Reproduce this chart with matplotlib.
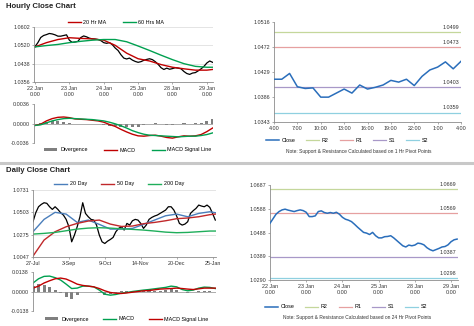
import numpy as np
import matplotlib.pyplot as plt

plt.rcParams['font.family'] = ['Liberation Sans', 'DejaVu Sans']

W, H = 474, 326

# ---- hourly close chart, 22 Jan 0:00 -> 29 Jan 4:00, one value every 2 trading hours
hr_close = [1.0514, 1.0532, 1.0555, 1.0564, 1.0568, 1.0573, 1.0571, 1.0567, 1.0561, 1.0561, 1.0564, 1.0567,
            1.0543, 1.0533, 1.0535, 1.0538, 1.0555, 1.0562, 1.0558, 1.0552, 1.0549, 1.0548, 1.0546, 1.0541,
            1.0532, 1.0529, 1.0532, 1.0523, 1.0508, 1.0497, 1.0478, 1.0463, 1.0459, 1.0463, 1.0454, 1.0448,
            1.0444, 1.0447, 1.0453, 1.0457, 1.0460, 1.0456, 1.0447, 1.0435, 1.0420, 1.0412, 1.0418, 1.0413,
            1.0416, 1.0420, 1.0418, 1.0415, 1.0403, 1.0394, 1.0390, 1.0396, 1.0398, 1.0406, 1.0415, 1.0426,
            1.0441, 1.0450, 1.0444]
hr_ma_hours = [0, 8, 16, 24, 32, 40, 48, 56, 64, 72, 80, 88, 96, 104, 112, 120, 124]
hr_ma20 = [1.0513, 1.0532, 1.0546, 1.0554, 1.0551, 1.0549, 1.0543, 1.0520, 1.0485, 1.0460, 1.0450,
           1.0434, 1.0422, 1.0415, 1.0409, 1.0409, 1.0412]
hr_ma60 = [1.0513, 1.0519, 1.0524, 1.0532, 1.0538, 1.0543, 1.0546, 1.0546, 1.0536, 1.0517, 1.0497,
           1.0476, 1.0456, 1.0438, 1.0426, 1.0422, 1.0422]
hr_day_labels = ['22 Jan\n0:00', '23 Jan\n0:00', '24 Jan\n0:00', '25 Jan\n0:00', '28 Jan\n0:00', '29 Jan\n0:00']
hr_price_ticks = ['1.0356', '1.0438', '1.0520', '1.0602']

# hourly MACD, one value every 4 hours
hr_macd = [-0.00036, -0.00012, 0.00048, 0.0009, 0.00114, 0.0012, 0.00108, 0.00084, 0.00078, 0.00072, 0.0006,
           0.00048, 0.00024, -0.00018, -0.00054, -0.00108, -0.00156, -0.00198, -0.00228, -0.00234, -0.00222,
           -0.00216, -0.00234, -0.00258, -0.0027, -0.00246, -0.00228, -0.00234, -0.00228, -0.00204, -0.0015,
           -0.00084]
hr_signal = [-0.00036, -0.00024, 0.00012, 0.00048, 0.00072, 0.0009, 0.00096, 0.0009, 0.00084, 0.00078, 0.00072,
             0.0006, 0.00048, 0.00024, -0.00006, -0.00042, -0.00084, -0.00132, -0.00168, -0.00198, -0.00216,
             -0.00222, -0.00228, -0.00234, -0.0024, -0.00246, -0.0024, -0.00234, -0.00234, -0.00222, -0.00204,
             -0.00174]
hr_div = [0.0, 0.00012, 0.00036, 0.00042, 0.00042, 0.0003, 0.00012, -0.00006, -0.00006, -0.00006, -0.00012,
          -0.00012, -0.00024, -0.00042, -0.00048, -0.00066, -0.00072, -0.00066, -0.0006, -0.00036, -0.00006,
          0.00006, -0.00006, -0.00024, -0.0003, 0.0, 0.00012, 0.0, 0.00006, 0.00018, 0.00054, 0.0009]

# ---- 1 hr pivot chart (4:00 -> 4:00)
pv_labels = ['4:00', '7:00', '10:00', '13:00', '16:00', '19:00', '22:00', '1:00', '4:00']
pv_close = [1.0417, 1.0417, 1.0427, 1.0404, 1.0401, 1.0402, 1.0386, 1.0386, 1.0393, 1.0400, 1.0393, 1.0407,
            1.0400, 1.0403, 1.0407, 1.0415, 1.0412, 1.0417, 1.0406, 1.0422, 1.0433, 1.0438, 1.0447, 1.0435,
            1.0448]
pv_levels = [1.0499, 1.0473, 1.0403, 1.0359]   # R2, R1, S1, S2
pv_ticks = ['1.0343', '1.0386', '1.0429', '1.0472', '1.0516']

# ---- daily close chart, 27 Jul -> 29 Jan, one value every 2 trading days
d_close = [1.0407, 1.0499, 1.0560, 1.0584, 1.0601, 1.0595, 1.0560, 1.0533, 1.0560, 1.0533, 1.0499, 1.0475,
           1.0431, 1.0356, 1.0202, 1.0271, 1.0356, 1.0458, 1.0601, 1.0492, 1.0458, 1.0431, 1.0424, 1.0373,
           1.0271, 1.0202, 1.0185, 1.0209, 1.0226, 1.0247, 1.0305, 1.0339, 1.0356, 1.0322, 1.0390, 1.0373,
           1.0417, 1.0431, 1.0424, 1.0390, 1.0339, 1.0373, 1.0431, 1.0451, 1.0465, 1.0475, 1.0492, 1.0509,
           1.0526, 1.0560, 1.0560, 1.0526, 1.0465, 1.0390, 1.0373, 1.0383, 1.0407, 1.0492, 1.0520, 1.0543,
           1.0577, 1.0567, 1.0560, 1.0577, 1.0554, 1.0492, 1.0424]
d_ma_days = [0, 8, 16, 24, 32, 40, 48, 56, 64, 72, 80, 88, 96, 104, 112, 120, 128, 132]
d_ma20 = [1.0305, 1.0431, 1.0503, 1.0485, 1.0400, 1.0424, 1.0380, 1.0332, 1.0332, 1.0339, 1.0380, 1.0424,
          1.0468, 1.0485, 1.0458, 1.0492, 1.0509, 1.0499]
d_ma50 = [1.0056, 1.0220, 1.0305, 1.0356, 1.0390, 1.0414, 1.0424, 1.0383, 1.0359, 1.0363, 1.0387, 1.0400,
          1.0417, 1.0438, 1.0445, 1.0458, 1.0479, 1.0485]
d_ma200 = [1.0281, 1.0288, 1.0298, 1.0315, 1.0332, 1.0342, 1.0346, 1.0342, 1.0335, 1.0329, 1.0322, 1.0312,
           1.0301, 1.0295, 1.0298, 1.0305, 1.0312, 1.0312]
d_date_labels = ['27-Jul', '3-Sep', '9-Oct', '14-Nov', '20-Dec', '25-Jan']
d_price_ticks = ['1.0047', '1.0275', '1.0503', '1.0731']

# daily MACD, one value every 4 days
d_macd = [0.0060, 0.0090, 0.0107, 0.0109, 0.0098, 0.0081, 0.0052, 0.0021, 0.0024, 0.0038, 0.0038, 0.0033,
          0.0010, -0.0019, -0.0026, -0.0021, -0.0012, -0.0007, 0.0000, 0.0005, 0.0010, 0.0014, 0.0019, 0.0024,
          0.0029, 0.0038, 0.0033, 0.0014, 0.0005, 0.0010, 0.0024, 0.0031, 0.0029, 0.0021]
d_signal = [0.0024, 0.0038, 0.0060, 0.0076, 0.0090, 0.0095, 0.0088, 0.0071, 0.0052, 0.0043, 0.0038, 0.0033,
            0.0021, 0.0005, -0.0007, -0.0012, -0.0014, -0.0010, -0.0005, 0.0000, 0.0005, 0.0007, 0.0012, 0.0017,
            0.0019, 0.0021, 0.0024, 0.0021, 0.0017, 0.0014, 0.0019, 0.0024, 0.0024, 0.0024]
d_div = [0.0036, 0.0052, 0.0047, 0.0033, 0.0008, -0.0014, -0.0036, -0.0050, -0.0028, -0.0005, 0.0, 0.0,
         -0.0011, -0.0024, -0.0019, -0.0009, 0.0002, 0.0003, 0.0005, 0.0005, 0.0005, 0.0007, 0.0007, 0.0007,
         0.0010, 0.0017, 0.0009, -0.0007, -0.0012, -0.0004, 0.0005, 0.0007, 0.0005, -0.0003]

# ---- 24 hr pivot chart, hourly closes 22 Jan -> 29 Jan, every 2 hours
p24_close = [1.0527, 1.0546, 1.0565, 1.0576, 1.0583, 1.0586, 1.0582, 1.0579, 1.0576, 1.0580, 1.0583, 1.0580,
             1.0573, 1.0555, 1.0555, 1.0558, 1.0576, 1.0579, 1.0572, 1.0569, 1.0572, 1.0569, 1.0573, 1.0565,
             1.0552, 1.0544, 1.0540, 1.0534, 1.0523, 1.0511, 1.0500, 1.0489, 1.0486, 1.0480, 1.0489, 1.0475,
             1.0466, 1.0466, 1.0471, 1.0472, 1.0475, 1.0466, 1.0455, 1.0444, 1.0433, 1.0428, 1.0436, 1.0433,
             1.0436, 1.0444, 1.0442, 1.0437, 1.0425, 1.0417, 1.0412, 1.0417, 1.0422, 1.0428, 1.0430, 1.0437,
             1.0450, 1.0458, 1.0461]
p24_levels = [1.0669, 1.0569, 1.0387, 1.0298]   # R2, R1, S1, S2
p24_ticks = ['1.0290', '1.0389', '1.0488', '1.0588', '1.0687']

level_names = ['R2', 'R1', 'S1', 'S2']
level_colors = ['#c4d79b', '#e6a0a0', '#a898c8', '#8fd0e0']

FS = 3.9
GRAY = '#8c8c8c'

fig = plt.figure(figsize=(W / 100, H / 100), dpi=100)


def px_axes(l, t, r, b):
    ax = fig.add_axes([l / W, 1 - b / H, (r - l) / W, (b - t) / H])
    ax.spines['top'].set_visible(False)
    ax.spines['right'].set_visible(False)
    for s in ['left', 'bottom']:
        ax.spines[s].set_color(GRAY)
        ax.spines[s].set_linewidth(0.6)
    ax.tick_params(labelsize=FS, length=1.5, width=0.5, color=GRAY, labelcolor='#333333', pad=1.5)
    return ax


def legend_at(ax, handles, labels, xc, yc, colsp):
    ax.legend(handles, labels, loc='center', bbox_to_anchor=(xc / W, 1 - yc / H),
              bbox_transform=fig.transFigure, ncol=len(handles), frameon=False, fontsize=FS,
              handlelength=2.4, handletextpad=0.5, columnspacing=colsp, borderpad=0,
              handleheight=0.6)


def value_ticks(ax, lo, hi, labels):
    ax.set_ylim(lo, hi)
    ax.set_yticks(np.linspace(lo, hi, len(labels)))
    ax.set_yticklabels(labels)


# titles and separator
fig.text(6 / W, 1 - 7 / H, 'Hourly Close Chart', fontsize=5.6, fontweight='bold', va='center', color='#222222')
fig.text(6 / W, 1 - 171 / H, 'Daily Close Chart', fontsize=5.6, fontweight='bold', va='center', color='#222222')
fig.add_artist(plt.Line2D([0, 1], [1 - 163 / H] * 2, color='#c8c8c8', lw=2.2, transform=fig.transFigure))

# ---------------- hourly price
ax = px_axes(34, 27, 213, 82)
hrs = np.arange(len(hr_close)) * 2
value_ticks(ax, 1.0356, 1.0602, hr_price_ticks)
ax.grid(axis='y', color='#d9d9d9', lw=0.5)
ax.set_axisbelow(True)
ax.plot(hrs, hr_close, color='black', lw=0.9)
l1, = ax.plot(hr_ma_hours, hr_ma20, color='#c00000', lw=1.0)
l2, = ax.plot(hr_ma_hours, hr_ma60, color='#00a050', lw=1.0)
ax.set_xlim(-0.7, 124.3)
ax.set_xticks(np.arange(0, 121, 24))
ax.set_xticklabels(hr_day_labels, linespacing=1.1)
legend_at(ax, [l1, l2], ['20 Hr MA', '60 Hrs MA'], 116, 22, 3.0)

# ---------------- hourly MACD
ax = px_axes(34, 104, 213, 143)
mh = np.arange(len(hr_macd)) * 4
value_ticks(ax, -0.0036, 0.0036, ['-0.0036', '0.0000', '0.0036'])
ax.spines['bottom'].set_visible(False)
ax.axhline(0, color=GRAY, lw=0.5)
b = ax.bar(mh, hr_div, width=2.2, color='#7f7f7f')
m1, = ax.plot(mh, hr_macd, color='#c00000', lw=1.0)
m2, = ax.plot(mh, hr_signal, color='#00a050', lw=1.0)
ax.set_xlim(-0.7, 124.3)
ax.set_xticks([])
legend_at(ax, [b, m1, m2], ['Divergence', 'MACD', 'MACD Signal Line'], 128, 150, 3.0)

# ---------------- 1 hr pivot
ax = px_axes(274, 22, 461, 122)
value_ticks(ax, 1.0343, 1.0516, pv_ticks)
lc, = ax.plot(np.arange(len(pv_close)), pv_close, color='#2a6ebb', lw=1.1, zorder=3)
lv = []
for v, c in zip(pv_levels, level_colors):
    lv.append(ax.axhline(v, color=c, lw=0.9))
    ax.text(23.8, v + 0.0004, '%.4f' % v, ha='right', va='bottom', fontsize=FS, color='#333333')
ax.set_xlim(0, 24)
ax.set_xticks(np.arange(0, 25, 3))
ax.set_xticklabels(pv_labels)
legend_at(ax, [lc] + lv, ['Close'] + level_names, 347, 140, 2.0)
fig.text(359 / W, 1 - 152 / H, 'Note: Support & Resistance Calculated based on 1 Hr Pivot Points',
         fontsize=3.5, ha='center', va='center', color='#333333')

# ---------------- daily price
ax = px_axes(33, 190, 216, 257)
value_ticks(ax, 1.0047, 1.0731, d_price_ticks)
ax.grid(axis='y', color='#d9d9d9', lw=0.5)
ax.set_axisbelow(True)
ax.plot(np.arange(len(d_close)) * 2, d_close, color='black', lw=0.9)
d1, = ax.plot(d_ma_days, d_ma20, color='#4a7ebb', lw=1.0)
d2, = ax.plot(d_ma_days, d_ma50, color='#c0282a', lw=1.0)
d3, = ax.plot(d_ma_days, d_ma200, color='#1fae5b', lw=1.0)
ax.set_xlim(0, 132.5)
ax.set_xticks(np.arange(0, 131, 26))
ax.set_xticklabels(d_date_labels)
legend_at(ax, [d1, d2, d3], ['20 Day', '50 Day', '200 Day'], 119, 184, 2.6)

# ---------------- daily MACD
ax = px_axes(33, 272, 216, 311)
md = np.arange(len(d_macd)) * 4
value_ticks(ax, -0.0138, 0.0138, ['-0.0138', '0.0000', '0.0138'])
ax.spines['bottom'].set_visible(False)
ax.axhline(0, color=GRAY, lw=0.5)
b = ax.bar(md, d_div, width=2.2, color='#7f7f7f')
n1, = ax.plot(md, d_macd, color='#00a050', lw=1.0)
n2, = ax.plot(md, d_signal, color='#c00000', lw=1.0)
ax.set_xlim(0, 132.5)
ax.set_xticks([])
legend_at(ax, [b, n1, n2], ['Divergence', 'MACD', 'MACD Signal Line'], 127, 319, 2.6)

# ---------------- 24 hr pivot
ax = px_axes(270, 185, 458, 280)
value_ticks(ax, 1.0290, 1.0687, p24_ticks)
pc, = ax.plot(np.arange(len(p24_close)) * 2, p24_close, color='#2a6ebb', lw=1.1, zorder=3)
pl = []
for v, c in zip(p24_levels, level_colors):
    pl.append(ax.axhline(v, color=c, lw=0.9))
    ax.text(123.5, v + 0.0008, '%.4f' % v, ha='right', va='bottom', fontsize=FS, color='#333333')
ax.set_xlim(0, 124.6)
ax.set_xticks(np.arange(0, 121, 24))
ax.set_xticklabels(hr_day_labels, linespacing=1.1)
legend_at(ax, [pc] + pl, ['Close'] + level_names, 346, 307, 2.0)
fig.text(357 / W, 1 - 317 / H, 'Note: Support & Resistance Calculated based on 24 Hr Pivot Points',
         fontsize=3.5, ha='center', va='center', color='#333333')

fig.savefig('out.png', dpi=100)
